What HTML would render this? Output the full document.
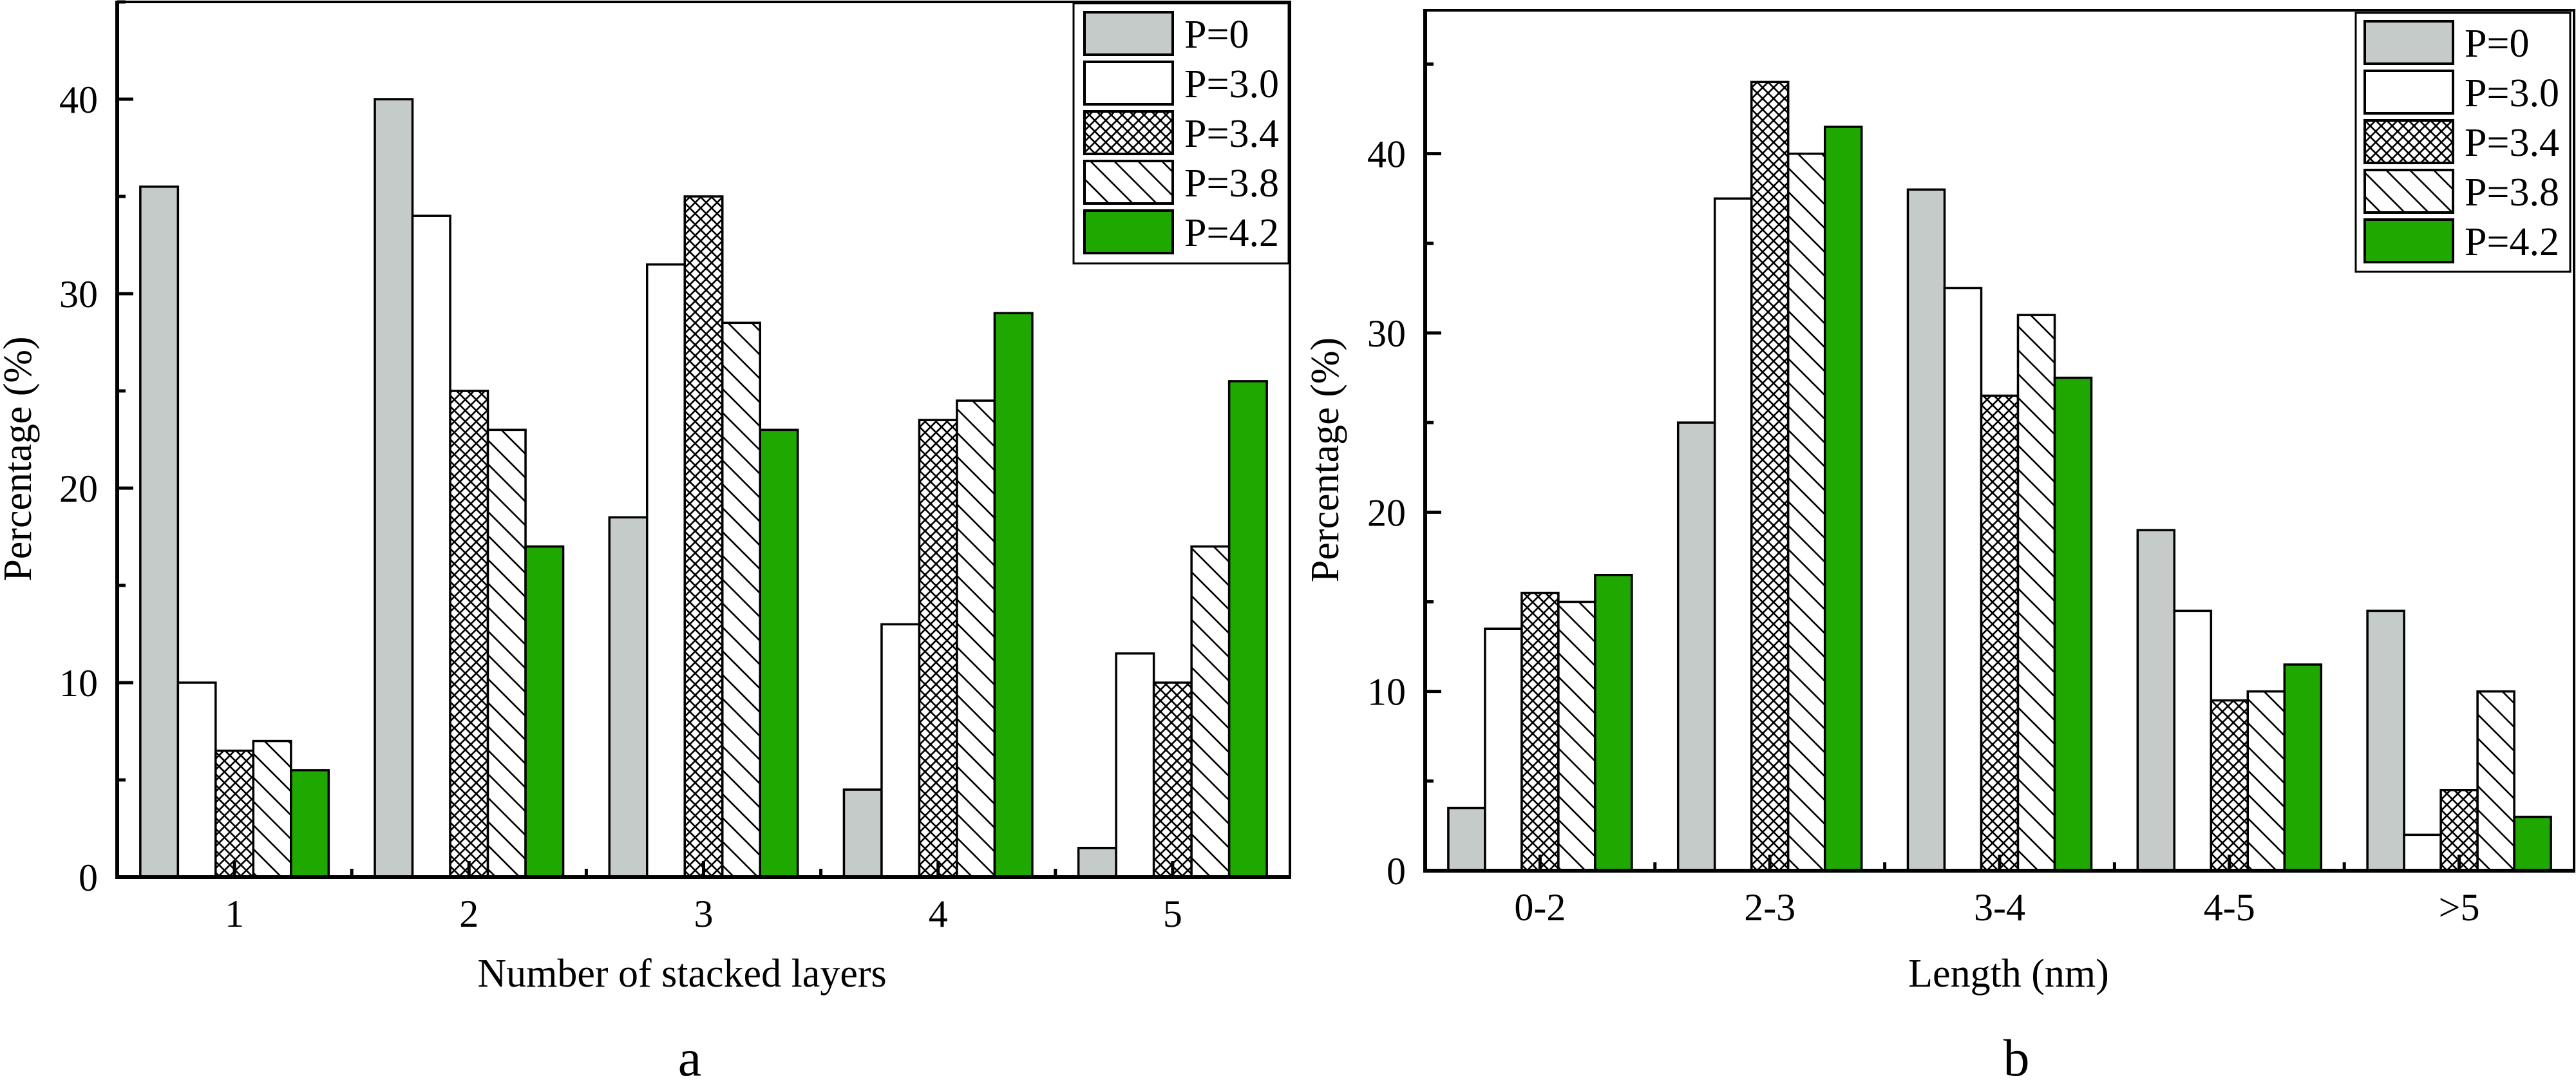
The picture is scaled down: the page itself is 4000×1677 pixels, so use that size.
<!DOCTYPE html>
<html><head><meta charset="utf-8"><style>
html,body{margin:0;padding:0;background:#fff;}
svg{display:block;}
svg text{font-family:"Liberation Serif","Times New Roman",serif;}
</style></head><body>
<svg id="fig" width="4000" height="1677" viewBox="0 0 4000 1677" xmlns="http://www.w3.org/2000/svg" font-family="Liberation Serif, serif">
<defs>
<pattern id="cross" patternUnits="userSpaceOnUse" width="17" height="17">
<rect width="17" height="17" fill="#fff"/>
<path d="M0,0L17,17M17,0L0,17M-2,15L2,19M15,-2L19,2M-2,2L2,-2M15,19L19,15" stroke="#000" stroke-width="2.6"/>
</pattern>
<pattern id="diag" patternUnits="userSpaceOnUse" width="37" height="37">
<rect width="37" height="37" fill="#fff"/>
<path d="M0,0L37,37M-5,32L5,42M32,-5L42,5" stroke="#000" stroke-width="2.6"/>
</pattern>
</defs>
<g id="gA"></g>
<g id="gB"></g>
</svg>
<script>
const seriesNames = ["P=0","P=3.0","P=3.4","P=3.8","P=4.2"];
const seriesFills = ["#c5cbc9","#ffffff","url(#cross)","url(#diag)","#1fa800"];
const catsA = ["1","2","3","4","5"];
const aP0 = [35.5,40,18.5,4.5,1.5];
const aP30 = [10,34,31.5,13,11.5];
const aP34 = [6.5,25,35,23.5,10];
const aP38 = [7,23,28.5,24.5,17];
const aP42 = [5.5,17,23,29,25.5];
const ticksA = [0,10,20,30,40];
const catsB = ["0-2","2-3","3-4","4-5",">5"];
const bP0 = [3.5,25,38,19,14.5];
const bP30 = [13.5,37.5,32.5,14.5,2];
const bP34 = [15.5,44,26.5,9.5,4.5];
const bP38 = [15,40,31,10,10];
const bP42 = [16.5,41.5,27.5,11.5,3];
const ticksB = [0,10,20,30,40];

const NS="http://www.w3.org/2000/svg";
function mk(p,tag,attrs,txt){const e=document.createElementNS(NS,tag);for(const k in attrs)e.setAttribute(k,attrs[k]);if(tag==='text')e.setAttribute('font-family','"Liberation Serif", serif');if(txt!==undefined)e.textContent=txt;p.appendChild(e);return e;}

function chart(g,o){
  const yS=v=>o.y0-(v/o.ymax)*(o.y0-o.top);
  const bw=(o.right-o.left)/o.cats.length;
  const xC=i=>o.left+(i+0.5)*bw;
  const barW=o.barW;
  o.series.forEach((s,si)=>{
    s.forEach((v,ci)=>{
      const x=xC(ci)-2.5*barW+si*barW;
      const r=mk(g,'rect',{x:x,y:yS(v),width:barW,height:o.y0-yS(v),fill:seriesFills[si],stroke:'#000','stroke-width':3.5});
      
      
    });
  });
  const fr=mk(g,'path',{d:`M${o.left},${o.top}H${o.right}V${o.y0}`,fill:'none',stroke:'#000','stroke-width':4});
  
  
  const ya=mk(g,'line',{x1:o.left,y1:o.top-2,x2:o.left,y2:o.y0+3,stroke:'#000','stroke-width':6});
  
  
  const xa=mk(g,'line',{x1:o.left-3,y1:o.y0,x2:o.right+2,y2:o.y0,stroke:'#000','stroke-width':6});
  
  
  for(let v=0;v<=o.ymax;v+=5){
    const major=o.ticks.includes(v);
    mk(g,'line',{x1:o.left,y1:yS(v),x2:o.left+(major?25:13),y2:yS(v),stroke:'#000','stroke-width':5});
  }
  o.ticks.forEach(v=>{
    const t=mk(g,'text',{x:o.left-30,y:yS(v)+21,'font-size':60,'text-anchor':'end'},String(v));
    
    
  });
  o.cats.forEach((c,i)=>{
    mk(g,'line',{x1:xC(i),y1:o.y0,x2:xC(i),y2:o.y0-25,stroke:'#000','stroke-width':5});
    if(i>0)mk(g,'line',{x1:o.left+i*bw,y1:o.y0,x2:o.left+i*bw,y2:o.y0-13,stroke:'#000','stroke-width':5});
    const t=mk(g,'text',{x:xC(i),y:o.y0+77,'font-size':60,'text-anchor':'middle'},c);
    
    
  });
  const yt=mk(g,'text',{x:0,y:0,'font-size':62,'text-anchor':'middle',transform:`translate(${o.ylx},${(o.top+o.y0)/2+30}) rotate(-90)`},'Percentage (%)');
  
  
  const xt=mk(g,'text',{x:o.xtx,y:1532,'font-size':62,'text-anchor':'middle'},o.xtitle);
  
  
  const pl=mk(g,'text',{x:o.xtx+12,y:1670,'font-size':82,'text-anchor':'middle'},o.panel);
  
  
  const L=o.leg;
  const lg=mk(g,'g',{});
  
  
  mk(lg,'rect',{x:L.x,y:L.y,width:L.w,height:L.h,fill:'#fff',stroke:'#000','stroke-width':3});
  seriesNames.forEach((n,i)=>{
    const e=mk(lg,'g',{});
    
    
    mk(e,'rect',{x:L.sx,y:L.sy+i*77,width:137,height:66,fill:seriesFills[i],stroke:'#000','stroke-width':4});
    mk(e,'text',{x:L.sx+155,y:L.sy+i*77+55,'font-size':62},n);
  });
}
chart(document.getElementById('gA'),{left:182,right:2003,top:3,y0:1362,ymax:45,barW:58.5,cats:catsA,
  series:[aP0,aP30,aP34,aP38,aP42],ticks:ticksA,ylx:48,xtx:1059,xtitle:'Number of stacked layers',panel:'a',
  leg:{x:1667,y:5,w:334,h:404,sx:1684,sy:19}});
chart(document.getElementById('gB'),{left:2213,right:3997,top:16,y0:1352,ymax:48,barW:57,cats:catsB,
  series:[bP0,bP30,bP34,bP38,bP42],ticks:ticksB,ylx:2078,xtx:3119,xtitle:'Length (nm)',panel:'b',
  leg:{x:3658,y:20,w:333,h:402,sx:3672,sy:33}});
</script>
</body></html>
